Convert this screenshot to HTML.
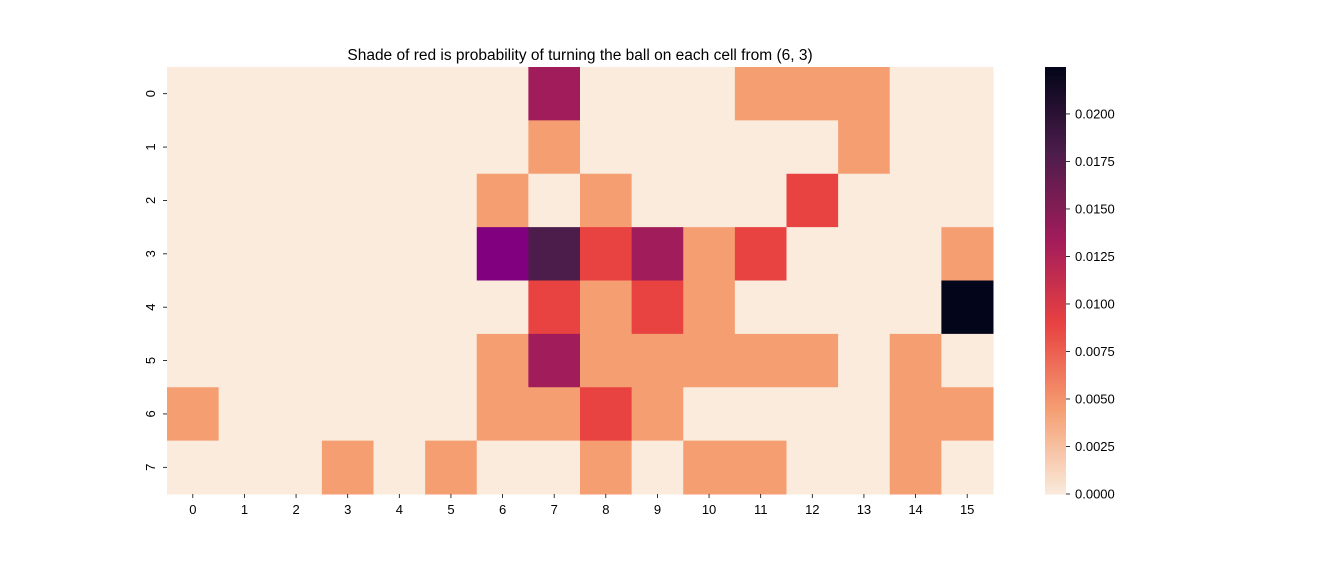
<!DOCTYPE html>
<html><head><meta charset="utf-8"><style>
body{margin:0;background:#fff;font-family:"Liberation Sans",sans-serif}
svg text{font-family:"Liberation Sans",sans-serif;fill:#000}
</style></head><body>
<svg id="chart" width="1333" height="566" xmlns="http://www.w3.org/2000/svg">
<text x="580" y="60" font-size="15.5" text-anchor="middle">Shade of red is probability of turning the ball on each cell from (6, 3)</text>
<g id="cells"></g><g id="xt"></g><g id="yt"></g><g id="cb"></g>
</svg>
<script>
const cols = [0,1,2,3,4,5,6,7,8,9,10,11,12,13,14,15];
const rows = [0,1,2,3,4,5,6,7];
const u = 0.0045;
const values = [
 [0,0,0,0,0,0,0,3*u,0,0,0,u,u,u,0,0],
 [0,0,0,0,0,0,0,u,0,0,0,0,0,u,0,0],
 [0,0,0,0,0,0,u,0,u,0,0,0,2*u,0,0,0],
 [0,0,0,0,0,0,0,4*u,2*u,3*u,u,2*u,0,0,0,u],
 [0,0,0,0,0,0,0,2*u,u,2*u,u,0,0,0,0,5*u],
 [0,0,0,0,0,0,u,3*u,u,u,u,u,u,0,u,0],
 [u,0,0,0,0,0,u,u,2*u,u,0,0,0,0,u,u],
 [0,0,0,u,0,u,0,0,u,0,u,u,0,0,u,0]
];
const origin = [6,3];
const cbTicks = [0,0.0025,0.005,0.0075,0.01,0.0125,0.015,0.0175,0.02];
const vmax = 0.02247;
const L=167,R=993,T=67,B=494;
const cw=(R-L)/cols.length, ch=(B-T)/rows.length;
const xs=i=>L+i*cw, ys=j=>T+j*ch;
const stops=[[0,[250,235,221]],[0.2,[245,158,114]],[0.4,[232,66,65]],[0.6,[161,28,91]],[0.8,[76,29,75]],[1,[3,5,26]]];
function color(v){let t=Math.max(0,Math.min(1,v/vmax));for(let k=1;k<stops.length;k++){if(t<=stops[k][0]){const a=stops[k-1],b=stops[k],f=(t-a[0])/(b[0]-a[0]);return 'rgb('+a[1].map((c,i)=>Math.round(c+(b[1][i]-c)*f)).join(',')+')';}}return 'rgb(3,5,26)';}
const NS='http://www.w3.org/2000/svg';
function mk(tag,at,parent){const e=document.createElementNS(NS,tag);for(const k in at)e.setAttribute(k,at[k]);parent.appendChild(e);return e;}
const g=document.getElementById('cells');
rows.forEach((r,j)=>cols.forEach((c,i)=>{
 const isO = (i===origin[0]&&j===origin[1]);
 const e=mk('rect',{x:xs(i),y:ys(j),width:cw+0.5,height:ch+0.5,fill:isO?'#800080':color(values[j][i])},g);
 
 
}));
const xt=document.getElementById('xt');
cols.forEach((c,i)=>{const x=xs(i)+cw/2;
 mk('line',{x1:x,x2:x,y1:B,y2:B+4,stroke:'#000','stroke-width':0.8},xt);
 const t=mk('text',{x:x,y:B+20,'font-size':13,'text-anchor':'middle'},xt);t.textContent=c;
 
 
});
const yt=document.getElementById('yt');
rows.forEach((r,j)=>{const y=ys(j)+ch/2;
 mk('line',{x1:L-4,x2:L,y1:y,y2:y,stroke:'#000','stroke-width':0.8},yt);
 const t=mk('text',{x:0,y:0,'font-size':13,'text-anchor':'middle',transform:'translate('+(L-12)+','+y+') rotate(-90)'},yt);t.textContent=r;
 
 
});
const cb=document.getElementById('cb');
const CX=1045,CW=21,N=200;
for(let k=0;k<N;k++){const v0=vmax*k/N;const y0=B-(B-T)*(k+1)/N;
 const e=mk('rect',{x:CX,y:y0,width:CW,height:(B-T)/N+0.6,fill:color(v0+vmax/N/2)},cb);
 
 
}
cbTicks.forEach(v=>{const y=B-(B-T)*v/vmax;
 mk('line',{x1:CX+CW,x2:CX+CW+4,y1:y,y2:y,stroke:'#000','stroke-width':0.8},cb);
 const t=mk('text',{x:CX+CW+9,y:y+4.5,'font-size':13},cb);t.textContent=v.toFixed(4);
 
 
});
</script>
</body></html>
